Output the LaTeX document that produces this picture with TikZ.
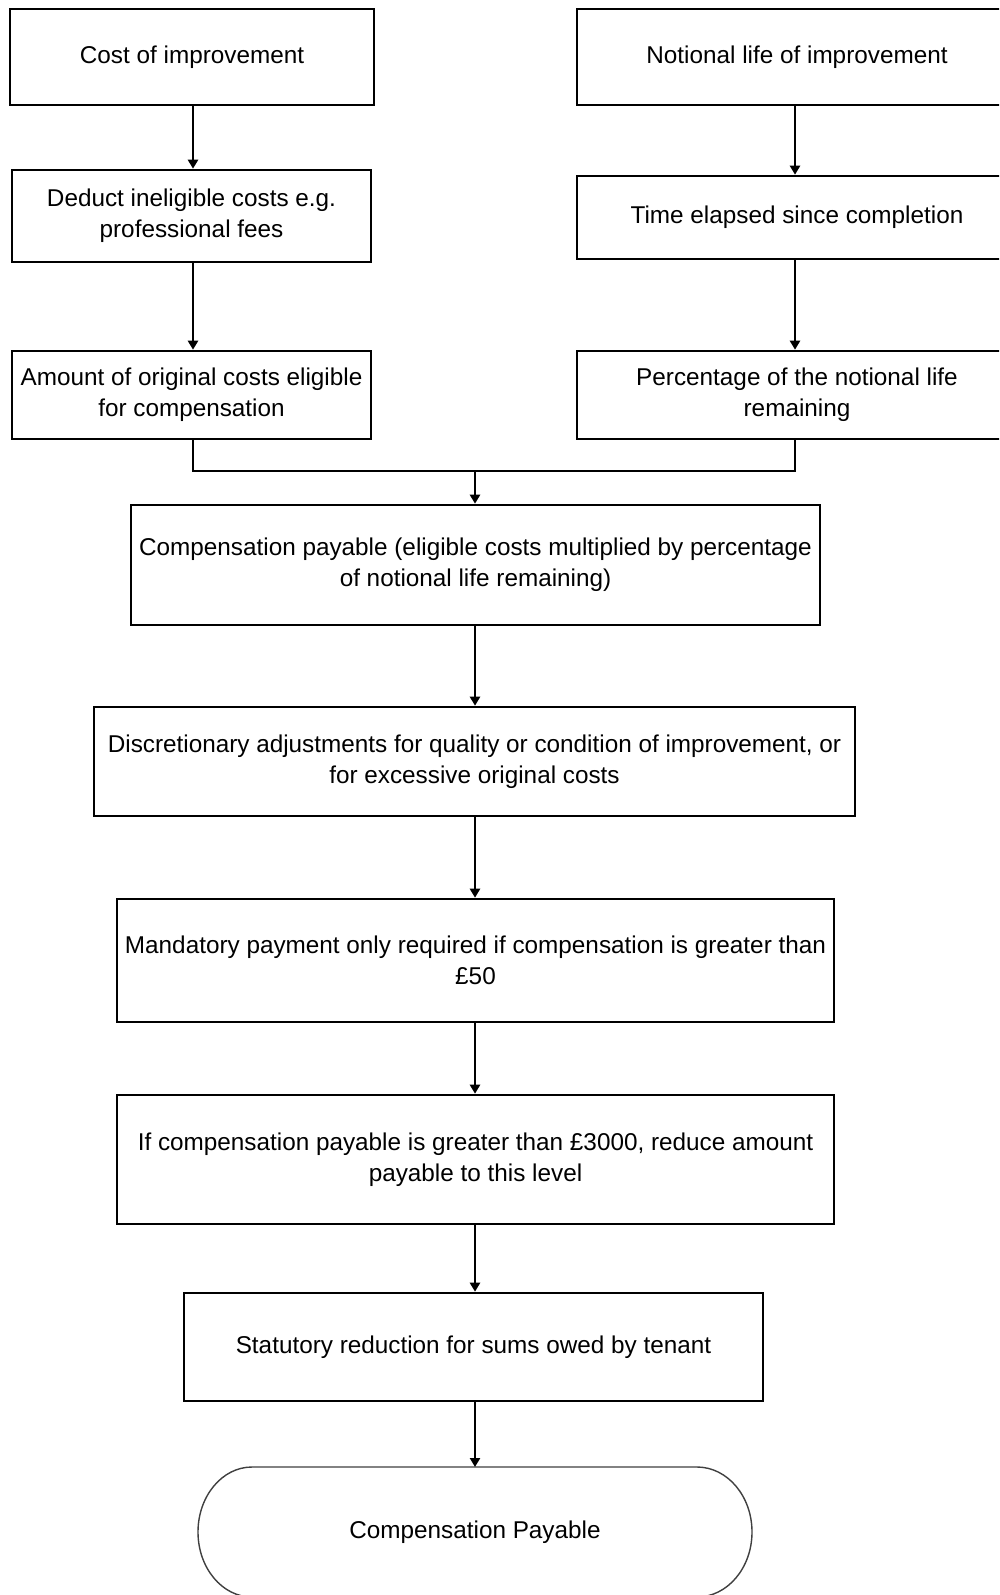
\documentclass[tikz,border=0pt]{standalone}
\usepackage{fontspec}
\setmainfont{Liberation Sans}
\usetikzlibrary{arrows.meta,calc}
\begin{document}
\begin{tikzpicture}[x=1pt,y=-1pt,
  box/.style={draw=black,line width=2.6pt,fill=white,inner sep=0pt,align=center,
    font=\fontsize{24.3}{31}\selectfont},
  conn/.style={line width=2.3pt,draw=black},
  arr/.style={conn,-{Triangle[width=10pt,length=9pt]}}]
\useasboundingbox (0,0) rectangle (999,1595);
\clip (0,0) rectangle (999,1595);
\fill[white] (0,0) rectangle (999,1595);
% left column
\node[box,minimum width=364pt,minimum height=96pt] (A) at (192,57) {Cost of improvement};
\node[box,minimum width=359pt,minimum height=92pt] (C) at (191.5,216) {Deduct ineligible costs e.g.\\professional fees};
\node[box,minimum width=359pt,minimum height=88pt] (E) at (191.5,395) {Amount of original costs eligible\\for compensation};
% right column
\node[box,minimum width=440pt,minimum height=96pt] (B) at (797,57) {Notional life of improvement};
\node[box,minimum width=440pt,minimum height=83pt] (D) at (797,217.5) {Time elapsed since completion};
\node[box,minimum width=440pt,minimum height=88pt] (F) at (797,395) {Percentage of the notional life\\remaining};
% centre column
\node[box,minimum width=689pt,minimum height=120pt] (G) at (475.5,565) {Compensation payable (eligible costs multiplied by percentage\\of notional life remaining)};
\node[box,minimum width=761pt,minimum height=109pt] (H) at (474.5,761.5) {Discretionary adjustments for quality or condition of improvement, or\\for excessive original costs};
\node[box,minimum width=717pt,minimum height=123pt] (I) at (475.5,960.5) {Mandatory payment only required if compensation is greater than\\£50};
\node[box,minimum width=717pt,minimum height=129pt] (J) at (475.5,1159.5) {If compensation payable is greater than £3000, reduce amount\\payable to this level};
\node[box,minimum width=579pt,minimum height=108pt] (K) at (473.5,1347) {Statutory reduction for sums owed by tenant};
% terminal
\node[box,draw=none,fill=none,outer sep=0pt,minimum width=554pt,minimum height=130pt] (L) at (475,1532) {Compensation Payable};
\draw[line width=1.4pt,draw=black!75]
  ($(L.north west)+(54,0)$) -- ($(L.north east)+(-55,0)$)
  arc[start angle=-90,end angle=90,x radius=55,y radius=65]
  -- ($(L.south west)+(54,0)$)
  arc[start angle=90,end angle=270,x radius=54,y radius=65] -- cycle;
% connectors
\draw[arr] (A.south -| 193,0) -- (C.north -| 193,0);
\draw[arr] (C.south -| 193,0) -- (E.north -| 193,0);
\draw[arr] (B.south -| 795,0) -- (D.north -| 795,0);
\draw[arr] (D.south -| 795,0) -- (F.north -| 795,0);
\coordinate (mrg) at (475,471);
\draw[conn] (E.south -| 193,0) |- (mrg) -| (F.south -| 795,0);
\draw[arr] (mrg) -- (G.north -| 475,0);
\draw[arr] (G.south -| 475,0) -- (H.north -| 475,0);
\draw[arr] (H.south -| 475,0) -- (I.north -| 475,0);
\draw[arr] (I.south -| 475,0) -- (J.north -| 475,0);
\draw[arr] (J.south -| 475,0) -- (K.north -| 475,0);
\draw[arr] (K.south -| 475,0) -- (L.north -| 475,0);
\end{tikzpicture}
\end{document}
